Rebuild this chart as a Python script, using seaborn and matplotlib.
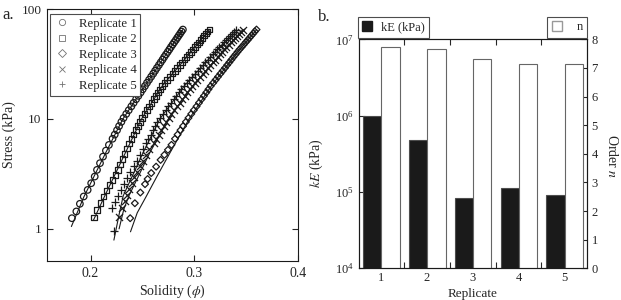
import numpy as np
import pandas as pd
import seaborn as sns
import matplotlib
matplotlib.use('Agg')
import matplotlib.pyplot as plt
from matplotlib.lines import Line2D
from matplotlib.patches import Patch
from matplotlib.ticker import NullLocator, FixedLocator, NullFormatter

# ---- panel a: stress vs solidity (markers = data, lines = fits)
rep1_phi = [0.1820, 0.1863, 0.1897, 0.1934, 0.1972, 0.2006, 0.2040, 0.2062, 0.2091, 0.2120, 0.2148, 0.2177,
            0.2212, 0.2233, 0.2255, 0.2275, 0.2297, 0.2318, 0.2344, 0.2368, 0.2393, 0.2415, 0.2439, 0.2461,
            0.2483, 0.2503, 0.2524, 0.2544, 0.2564, 0.2584, 0.2604, 0.2622, 0.2640, 0.2659, 0.2676, 0.2694,
            0.2710, 0.2727, 0.2744, 0.2760, 0.2775, 0.2791, 0.2806, 0.2822, 0.2836, 0.2850, 0.2864, 0.2877, 0.2890]
rep1_stress = [1.25, 1.44, 1.69, 1.97, 2.26, 2.60, 2.99, 3.44, 3.96, 4.54, 5.15, 5.80,
               6.6, 7.2, 7.9, 8.6, 9.4, 10.2, 11.1, 12, 13, 14, 15.1, 16.2,
               17.4, 18.6, 19.9, 21.3, 22.7, 24.2, 25.8, 27.4, 29.1, 30.9, 32.7, 34.6,
               36.6, 38.6, 40.7, 42.9, 45.1, 47.4, 49.8, 52.2, 54.7, 57.2, 59.8, 62.4, 65]

rep2_phi = [0.2031, 0.2062, 0.2097, 0.2126, 0.2154, 0.2182, 0.2211, 0.2239, 0.2262, 0.2284, 0.2306, 0.2327, 0.2350,
            0.2372, 0.2394, 0.2414, 0.2436, 0.2455, 0.2476, 0.2496, 0.2520, 0.2542, 0.2566, 0.2587, 0.2609,
            0.2630, 0.2650, 0.2669, 0.2689, 0.2714, 0.2739, 0.2765, 0.2790, 0.2813, 0.2836, 0.2860, 0.2882,
            0.2904, 0.2925, 0.2947, 0.2967, 0.2986, 0.3006, 0.3025, 0.3043, 0.3062, 0.3079, 0.3096, 0.3113,
            0.3129, 0.3145]
rep2_stress = [1.27, 1.49, 1.71, 1.97, 2.23, 2.51, 2.79, 3.10, 3.45, 3.85, 4.30, 4.80, 5.40,
               6, 6.6, 7.2, 7.9, 8.6, 9.4, 10.2, 11.1, 12, 13, 14, 15.1,
               16.2, 17.4, 18.6, 19.9, 21.3, 22.7, 24.2, 25.8, 27.4, 29.1, 30.9, 32.7,
               34.6, 36.6, 38.6, 40.7, 42.9, 45.1, 47.4, 49.8, 52.2, 54.7, 57.2, 59.8,
               62.4, 65]

rep3_phi = [0.2382, 0.2427, 0.2480, 0.2525, 0.2550, 0.2585, 0.2632, 0.2675, 0.2712, 0.2746, 0.2780,
            0.2814, 0.2839, 0.2867, 0.2892, 0.2919, 0.2944, 0.2971, 0.2995, 0.3022, 0.3045, 0.3070,
            0.3093, 0.3116, 0.3137, 0.3158, 0.3183, 0.3206, 0.3229, 0.3252, 0.3274, 0.3296, 0.3317,
            0.3338, 0.3358, 0.3378, 0.3398, 0.3417, 0.3437, 0.3457, 0.3477, 0.3496, 0.3515, 0.3533,
            0.3550, 0.3568, 0.3584, 0.3600]
rep3_stress = [1.25, 1.71, 2.14, 2.55, 2.84, 3.22, 3.68, 4.24, 4.71, 5.23, 5.81,
               6.6, 7.2, 7.9, 8.6, 9.4, 10.2, 11.1, 12, 13, 14, 15.1,
               16.2, 17.4, 18.6, 19.9, 21.3, 22.7, 24.2, 25.8, 27.4, 29.1, 30.9,
               32.7, 34.6, 36.6, 38.6, 40.7, 42.9, 45.1, 47.4, 49.8, 52.2, 54.7,
               57.2, 59.8, 62.4, 65]

rep4_phi = [0.2276, 0.2306, 0.2328, 0.2348, 0.2372, 0.2397, 0.2423, 0.2450, 0.2478, 0.2505, 0.2535, 0.2568,
            0.2609, 0.2634, 0.2657, 0.2682, 0.2705, 0.2728, 0.2752, 0.2780, 0.2807, 0.2834, 0.2859, 0.2885,
            0.2909, 0.2933, 0.2956, 0.2978, 0.3005, 0.3031, 0.3057, 0.3083, 0.3107, 0.3132, 0.3156, 0.3179,
            0.3202, 0.3224, 0.3246, 0.3268, 0.3289, 0.3310, 0.3332, 0.3352, 0.3373, 0.3392, 0.3411, 0.3430,
            0.3448, 0.3465]
rep4_stress = [1.29, 1.55, 1.80, 2.05, 2.32, 2.62, 2.95, 3.32, 3.72, 4.17, 4.68, 5.30,
               6, 6.6, 7.2, 7.9, 8.6, 9.4, 10.2, 11.1, 12, 13, 14, 15.1,
               16.2, 17.4, 18.6, 19.9, 21.3, 22.7, 24.2, 25.8, 27.4, 29.1, 30.9, 32.7,
               34.6, 36.6, 38.6, 40.7, 42.9, 45.1, 47.4, 49.8, 52.2, 54.7, 57.2, 59.8,
               62.4, 65]

rep5_phi = [0.2228, 0.2211, 0.2240, 0.2268, 0.2297, 0.2326, 0.2355, 0.2385, 0.2414, 0.2444, 0.2475, 0.2505,
            0.2535, 0.2558, 0.2579, 0.2602, 0.2623, 0.2645, 0.2667, 0.2696, 0.2723, 0.2751, 0.2776, 0.2803,
            0.2828, 0.2852, 0.2875, 0.2898, 0.2926, 0.2953, 0.2980, 0.3007, 0.3032, 0.3057, 0.3082, 0.3106,
            0.3129, 0.3152, 0.3176, 0.3198, 0.3220, 0.3242, 0.3264, 0.3285, 0.3306, 0.3326, 0.3344, 0.3364,
            0.3382, 0.3400]
rep5_stress = [0.96, 1.54, 1.75, 2.00, 2.28, 2.58, 2.92, 3.30, 3.72, 4.18, 4.70, 5.30,
               6, 6.6, 7.2, 7.9, 8.6, 9.4, 10.2, 11.1, 12, 13, 14, 15.1,
               16.2, 17.4, 18.6, 19.9, 21.3, 22.7, 24.2, 25.8, 27.4, 29.1, 30.9, 32.7,
               34.6, 36.6, 38.6, 40.7, 42.9, 45.1, 47.4, 49.8, 52.2, 54.7, 57.2, 59.8,
               62.4, 65]

fit1_phi = [0.1815, 0.1935, 0.2145, 0.2312, 0.2525, 0.2738, 0.2890]
fit1_stress = [1.05, 1.95, 4.9, 10, 20, 40, 65]
fit2_phi = [0.2028, 0.2132, 0.2335, 0.2492, 0.2692, 0.2962, 0.3147]
fit2_stress = [1.2, 1.95, 4.9, 10, 20, 40, 65]
fit3_phi = [0.2385, 0.2450, 0.2540, 0.2640, 0.2770, 0.2950, 0.3165, 0.3412, 0.3602]
fit3_stress = [0.94, 1.4, 2.0, 3.0, 5.0, 10, 20, 40, 65]
fit4_phi = [0.2275, 0.2320, 0.2370, 0.2570, 0.2750, 0.2985, 0.3265, 0.3468]
fit4_stress = [1.0, 1.5, 2.0, 4.9, 10, 20, 40, 65]
fit5_phi = [0.2225, 0.2275, 0.2315, 0.2505, 0.2668, 0.2905, 0.3195, 0.3405]
fit5_stress = [0.79, 1.35, 2.0, 4.9, 10, 20, 40, 65]

rep_labels = ['Replicate 1', 'Replicate 2', 'Replicate 3', 'Replicate 4', 'Replicate 5']

# ---- panel b: fit parameters
replicates = [1, 2, 3, 4, 5]
kE = [1.0e6, 4.8e5, 8.4e4, 1.14e5, 9.2e4]
order_n = [7.72, 7.66, 7.30, 7.15, 7.13]

sns.set_theme(style='ticks')
plt.rcParams['font.family'] = ['Liberation Serif', 'DejaVu Serif']
plt.rcParams['mathtext.fontset'] = 'stix'
plt.rcParams['axes.edgecolor'] = 'k'
plt.rcParams['axes.linewidth'] = 0.8

fig = plt.figure(figsize=(6.21, 3.0), dpi=100)
axa = fig.add_axes([47 / 621, 1 - 261 / 300, 251 / 621, 252 / 300])
axa.set_yscale('log')

markers = ['o', 's', 'D', 'x', '+']
sizes = [22, 16, 12, 26, 30]
data = [(rep1_phi, rep1_stress), (rep2_phi, rep2_stress), (rep3_phi, rep3_stress),
        (rep4_phi, rep4_stress), (rep5_phi, rep5_stress)]
fits = [(fit1_phi, fit1_stress), (fit2_phi, fit2_stress), (fit3_phi, fit3_stress),
        (fit4_phi, fit4_stress), (fit5_phi, fit5_stress)]

for (px, py), m, s in zip(data, markers, sizes):
    df = pd.DataFrame({'phi': px, 'stress': py})
    if m in ['x', '+']:
        sns.scatterplot(data=df, x='phi', y='stress', marker=m, s=s, color='k', linewidth=0.9, ax=axa)
    else:
        sns.scatterplot(data=df, x='phi', y='stress', marker=m, s=s, facecolor='none',
                        edgecolor='k', linewidth=0.9, ax=axa)
for fx, fy in fits:
    sns.lineplot(x=fx, y=fy, color='k', linewidth=0.8, sort=False, estimator=None, ax=axa)

axa.set_xlim(0.158, 0.4)
axa.set_ylim(0.51, 100)
axa.set_xticks([0.2, 0.3, 0.4])
axa.set_xticklabels(['0.2', '0.3', '0.4'], fontsize=10)
axa.set_yticks([1, 10, 100])
axa.set_yticklabels(['1', '10', '100'], fontsize=9.5)
axa.yaxis.set_minor_locator(NullLocator())
axa.tick_params(direction='in', top=True, right=True, length=4, width=0.8, pad=4)
axa.set_xlabel(r'Solidity ($\phi$)', fontsize=10)
axa.set_ylabel('Stress (kPa)', fontsize=10)
axa.xaxis.set_label_coords(0.5, -0.085)
axa.yaxis.set_label_coords(-0.125, 0.5)

handles = [Line2D([], [], marker=m, ls='none', color='0.45', mfc='none', mec='0.45', ms=4.5, mew=0.6)
           for m in markers]
leg = axa.legend(handles, rep_labels, loc='upper left', bbox_to_anchor=(0.012, 0.98), fontsize=9.2,
                 frameon=True, fancybox=False, framealpha=1, edgecolor='0.3', labelspacing=0.27,
                 handlelength=1.2, handletextpad=0.75, borderpad=0.3, borderaxespad=0)
leg.get_frame().set_linewidth(0.8)
leg.set_zorder(5)

fig.text(2 / 621, 1 - 15 / 300, 'a.', fontsize=12, va='center', ha='left')

# ---- panel b
axb = fig.add_axes([359 / 621, 1 - 268.3 / 300, 227.7 / 621, 229 / 300])
axb.set_yscale('log')
sns.barplot(x=np.array(replicates) - 0.19, y=kE, native_scale=True, width=0.4, color='k',
            edgecolor='0.3', linewidth=0.8, saturation=1, errorbar=None, ax=axb)
axn = axb.twinx()
sns.barplot(x=np.array(replicates) + 0.21, y=order_n, native_scale=True, width=0.4, color='white',
            edgecolor='0.4', linewidth=0.8, saturation=1, errorbar=None, ax=axn)

axb.set_ylim(1e4, 1e7)
axn.set_ylim(0, 8)
for ax in (axb, axn):
    ax.set_xlim(0.52, 5.49)
axb.set_xticks(replicates)
axb.set_xticklabels([str(r) for r in replicates], fontsize=9)
axb.xaxis.set_minor_locator(FixedLocator([1.5, 2.5, 3.5, 4.5]))
axb.xaxis.set_minor_formatter(NullFormatter())
axb.tick_params(axis='x', which='major', length=0, pad=3)
axb.tick_params(axis='x', which='minor', direction='in', length=4, width=0.8, top=True)
axb.yaxis.set_minor_locator(NullLocator())
axb.tick_params(axis='y', which='major', direction='in', length=4, width=0.8, labelsize=9)
axn.set_yticks(range(0, 9))
axn.tick_params(axis='y', direction='in', length=4, width=0.8, labelsize=9)
axb.set_xlabel('Replicate', fontsize=9.5)
axb.xaxis.set_label_coords(0.5, -0.085)
axb.set_ylabel(r'$kE$ (kPa)', fontsize=10)
axb.yaxis.set_label_coords(-0.15, 0.46)
axn.set_ylabel(r'Order $n$', fontsize=10, rotation=270, va='center', ha='center')
axn.yaxis.set_label_coords(1.11, 0.49)

lb1 = fig.legend([Patch(facecolor='k', edgecolor='k')], ['kE (kPa)'], loc='upper left',
                 bbox_to_anchor=(357.7 / 621, 1 - 16.7 / 300), fontsize=9, frameon=True, fancybox=False,
                 framealpha=1, edgecolor='0.3', handlelength=0.8, handleheight=0.8, handletextpad=0.7,
                 borderpad=0.35, borderaxespad=0)
lb1.get_frame().set_linewidth(0.8)
lb2 = fig.legend([Patch(facecolor='white', edgecolor='0.6')], ['n'], loc='upper right',
                 bbox_to_anchor=(587.3 / 621, 1 - 16.7 / 300), fontsize=9, frameon=True, fancybox=False,
                 framealpha=1, edgecolor='0.3', handlelength=0.8, handleheight=0.8, handletextpad=1.2,
                 borderpad=0.35, borderaxespad=0)
lb2.get_frame().set_linewidth(0.8)

fig.text(318 / 621, 1 - 17 / 300, 'b.', fontsize=12, va='center', ha='left')

fig.savefig('out.png', dpi=100)
